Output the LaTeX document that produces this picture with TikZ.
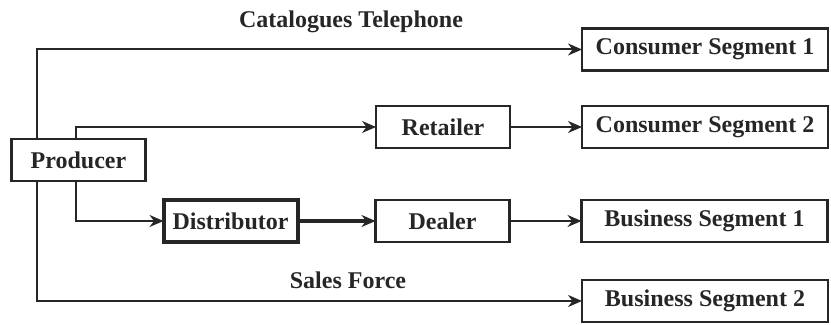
\documentclass[tikz,border=0pt]{standalone}
\usepackage{fontspec}
\setmainfont{Liberation Serif}
\definecolor{inkgray}{HTML}{262626}
\usetikzlibrary{
  positioning,
  arrows.meta
}

\begin{document}
\begin{tikzpicture}[
  x=0.5pt, y=-0.5pt,
  >={Stealth[length=7pt,width=6pt]},
  cbox/.style={
    rectangle, draw=inkgray, line width=1.1pt, inner sep=0pt, outer sep=0pt,
    minimum height=21pt, align=center, text=inkgray,
    font=\bfseries\fontsize{12}{14}\selectfont
  },
  lbox/.style={cbox, minimum width=67pt},
  sbox/.style={cbox, minimum width=123pt},
  flow/.style={->, line width=1pt, draw=inkgray},
  tag/.style={text=inkgray, font=\bfseries\fontsize{12}{14}\selectfont}
]
\useasboundingbox (0,0) rectangle (831,325);

\node[lbox] (producer) at (78.5,160) {Producer};
\node[lbox] (retailer) at (443,127) {Retailer};
\node[lbox, line width=2pt] (distributor) at (230.5,221) {Distributor};
\node[lbox, right=39pt of distributor] (dealer) {Dealer};

\node[sbox] (cs1) at (705,49.5) {Consumer Segment 1};
\node[sbox, right=36pt of retailer] (cs2) {Consumer Segment 2};
\node[sbox, right=36pt of dealer] (bs1) {Business Segment 1};
\node[sbox] (bs2) at (705,301) {Business Segment 2};

\node[tag] (catalogue) at (351,22) {Catalogues Telephone};
\node[tag] (salesforce) at (348,280) {Sales Force};

\draw[flow] ([xshift=12.5pt]producer.north west) |- (cs1.west);
\draw[flow] ([xshift=32pt]producer.north west) |- (retailer.west);
\draw[flow] ([xshift=32pt]producer.south west) |- (distributor.west);
\draw[flow] ([xshift=12.5pt]producer.south west) |- (bs2.west);
\draw[flow] (retailer.east) -- (cs2.west);
\draw[flow, line width=1.7pt] (distributor.east) -- (dealer.west);
\draw[flow] (dealer.east) -- (bs1.west);

\end{tikzpicture}
\end{document}
